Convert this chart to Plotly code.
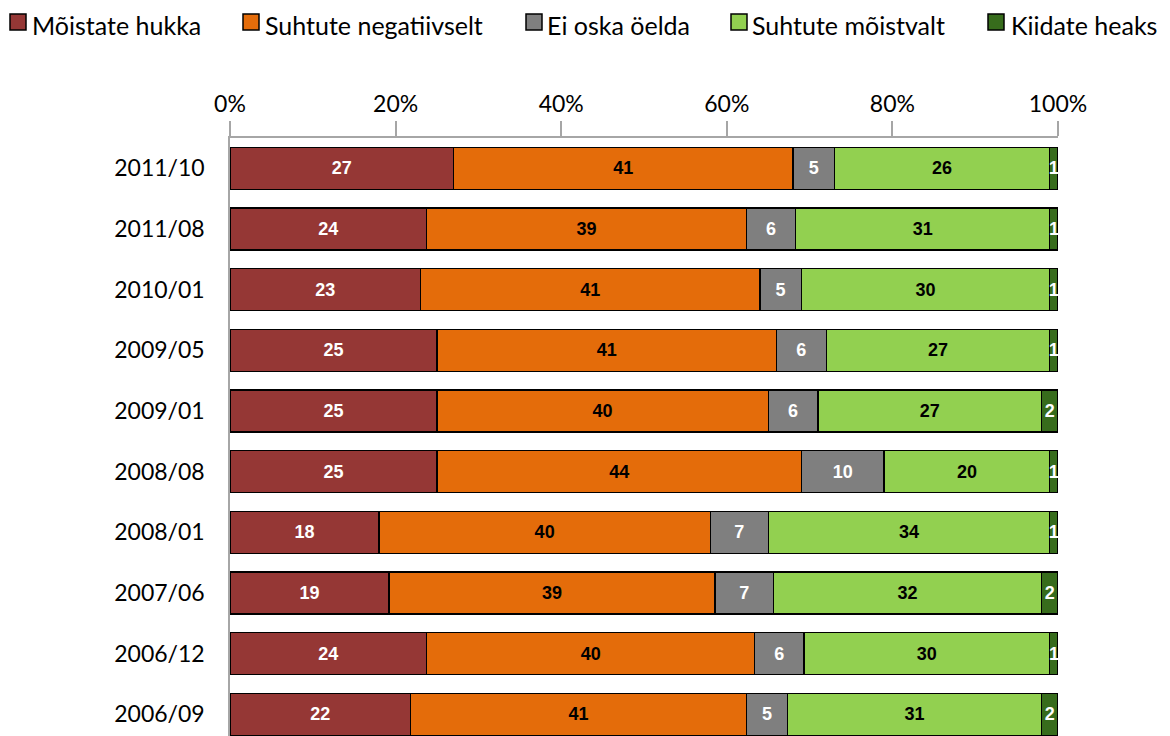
import plotly.graph_objects as go

categories = ["2006/09", "2006/12", "2007/06", "2008/01", "2008/08",
              "2009/01", "2009/05", "2010/01", "2011/08", "2011/10"]
series_names = ["Mõistate hukka", "Suhtute negatiivselt", "Ei oska öelda",
                "Suhtute mõistvalt", "Kiidate heaks"]
hukka = [22, 24, 19, 18, 25, 25, 25, 23, 24, 27]
negatiivselt = [41, 40, 39, 40, 44, 40, 41, 41, 39, 41]
ei_oska = [5, 6, 7, 7, 10, 6, 6, 5, 6, 5]
moistvalt = [31, 30, 32, 34, 20, 27, 27, 30, 31, 26]
heaks = [2, 1, 2, 1, 1, 2, 1, 1, 1, 1]
tick_vals = [0, 20, 40, 60, 80, 100]
tick_text = ["0%", "20%", "40%", "60%", "80%", "100%"]

colors = ["#953735", "#E46C0A", "#7F7F7F", "#92D050", "#376C1C"]
text_colors = ["white", "black", "white", "black", "white"]
all_series = [hukka, negatiivselt, ei_oska, moistvalt, heaks]

fig = go.Figure()
for name, vals, col, tcol in zip(series_names, all_series, colors, text_colors):
    fig.add_trace(go.Bar(
        y=categories, x=vals, name=name, orientation="h",
        marker=dict(color=col, line=dict(color="black", width=1.3)),
        text=[str(v) for v in vals], textposition="inside",
        insidetextanchor="middle", textangle=0,
        textfont=dict(family="Liberation Sans", size=18, color=tcol, weight="bold"),
        cliponaxis=False, showlegend=False,
    ))

# layout geometry (page body adds an 8px offset)
W, H = 1162, 728
ML, MR, MT, MB = 222, 112, 130, 0
OFF = 8
PW, PH = W - ML - MR, H - MT - MB


def px_x(px):
    return (px - OFF - ML) / PW


def px_y(py):
    return (H - MB - (py - OFF)) / PH


# legend drawn in one row like the original
legend_square_left = [10, 243, 526, 731, 988]
legend_text_left = [31, 264, 546, 751, 1010]
sq = 16
sq_top = 14
for name, col, sx, tx in zip(series_names, colors, legend_square_left, legend_text_left):
    fig.add_shape(type="rect", xref="paper", yref="paper",
                  x0=px_x(sx), x1=px_x(sx + sq), y0=px_y(sq_top + sq), y1=px_y(sq_top),
                  fillcolor=col, line=dict(color="black", width=1.5))
    fig.add_annotation(xref="paper", yref="paper", x=px_x(tx), y=px_y(OFF + 0.5),
                       text=name, showarrow=False, xanchor="left", yanchor="top",
                       borderpad=0, font=dict(family="Lato", size=25, color="black"))

fig.update_layout(
    barmode="stack", barnorm="percent", bargap=0.31,
    width=W, height=H,
    margin=dict(l=ML, r=MR, t=MT, b=MB),
    paper_bgcolor="white", plot_bgcolor="white",
    font=dict(family="Lato", size=23, color="black"),
    uniformtext=dict(minsize=18, mode="show"),
    showlegend=False,
)
fig.update_xaxes(side="top", range=[0, 100], tickvals=tick_vals, ticktext=tick_text,
                 showgrid=False, showline=True, linecolor="#A6A6A6", linewidth=1.5,
                 ticks="outside", ticklen=15, tickcolor="#A6A6A6", tickwidth=1.5,
                 tickfont=dict(size=23), zeroline=False)
fig.update_yaxes(type="category", range=[-0.357, 9.5], showgrid=False, showline=True,
                 linecolor="#A6A6A6", linewidth=1.5, ticks="", ticklen=0,
                 tickfont=dict(size=23), ticklabelstandoff=19)

fig.write_html("out.html")
